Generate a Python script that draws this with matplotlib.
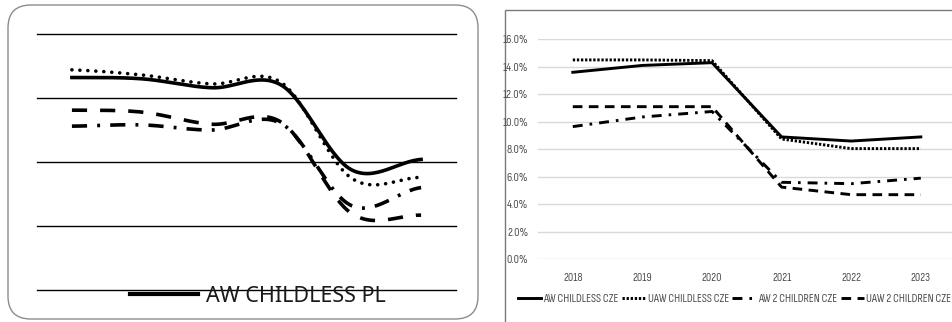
import matplotlib
matplotlib.use("Agg")
import matplotlib.pyplot as plt
import numpy as np
from matplotlib.patches import FancyBboxPatch, Rectangle

years = ["2018", "2019", "2020", "2021", "2022", "2023"]

# Poland, % (left panel)
aw_childless_pl = [16.6, 16.5, 15.8, 16.0, 9.4, 10.2]
uaw_childless_pl = [17.2, 16.8, 16.1, 16.2, 8.75, 8.8]
aw_2children_pl = [12.8, 12.9, 12.5, 13.0, 6.6, 8.0]
uaw_2children_pl = [14.05, 13.9, 12.95, 13.1, 6.0, 5.85]

# Czechia, % (right panel)
aw_childless_cze = [13.6, 14.1, 14.3, 8.9, 8.6, 8.9]
uaw_childless_cze = [14.5, 14.5, 14.45, 8.75, 8.05, 8.05]
aw_2children_cze = [9.65, 10.35, 10.75, 5.6, 5.5, 5.9]
uaw_2children_cze = [11.1, 11.1, 11.1, 5.25, 4.7, 4.7]

pl_labels = ["AW CHILDLESS PL", "UAW CHILDLESS PL", "AW 2 CHILDREN PL", "UAW 2 CHILDREN PL"]
cze_labels = ["AW CHILDLESS CZE", "UAW CHILDLESS CZE", "AW 2 CHILDREN CZE", "UAW 2 CHILDREN CZE"]

NARROW = ["Sofia Sans Condensed", "Roboto Condensed", "DejaVu Sans"]
GREY_TXT = "#4d4d4d"


def smooth(values, steps=30):
    """Catmull-Rom curve through the points, like a smoothed spreadsheet line."""
    p = np.asarray(values, dtype=float)
    n = len(p)
    ext = np.concatenate([[p[0]], p, [p[-1]]])
    xs, ys = [], []
    for i in range(n - 1):
        p0, p1, p2, p3 = ext[i], ext[i + 1], ext[i + 2], ext[i + 3]
        m1 = (p2 - p0) / 2.0
        m2 = (p3 - p1) / 2.0
        t = np.linspace(0, 1, steps, endpoint=(i == n - 2))
        h00 = 2 * t**3 - 3 * t**2 + 1
        h10 = t**3 - 2 * t**2 + t
        h01 = -2 * t**3 + 3 * t**2
        h11 = t**3 - t**2
        xs.append(i + t)
        ys.append(h00 * p1 + h10 * m1 + h01 * p2 + h11 * m2)
    return np.concatenate(xs), np.concatenate(ys)


fig = plt.figure(figsize=(9.53, 3.22), dpi=100)
W, H = 953.0, 322.0


def fx(px):
    return px / W


def fy(py):
    return 1 - py / H


# ---- left panel: Poland, smoothed lines inside a rounded frame ----
frame = FancyBboxPatch((fx(8), fy(319)), fx(470), 314 / H,
                       boxstyle="round,pad=0,rounding_size=0.024",
                       transform=fig.transFigure, facecolor="none",
                       edgecolor="#8c8c8c", linewidth=1.0, zorder=-1,
                       mutation_aspect=W / H)
fig.patches.append(frame)

ax1 = fig.add_axes([fx(37), fy(290), fx(419), 256 / H])
ax1.set_xlim(-0.5, 5.5)
ax1.set_ylim(0, 20)
ax1.axis("off")
for g in range(0, 21, 5):
    ax1.axhline(g, color="black", linewidth=1.0, zorder=1, clip_on=False)

pl_series = [aw_childless_pl, uaw_childless_pl, aw_2children_pl, uaw_2children_pl]
pl_styles = [
    dict(linestyle="-"),
    dict(linestyle=(0, (0.01, 2.2)), dash_capstyle="round"),
    dict(linestyle=(0, (4.2, 2.8, 0.8, 2.8)), dash_capstyle="butt"),
    dict(linestyle=(0, (4.2, 3.6)), dash_capstyle="butt"),
]
pl_lines = []
for vals, lab, st in zip(pl_series, pl_labels, pl_styles):
    sx, sy = smooth(vals)
    ln, = ax1.plot(sx, sy, color="black", linewidth=2.6, label=lab, zorder=3, **st)
    pl_lines.append(ln)

leg1 = ax1.legend(handles=pl_lines[:1], loc="center left",
                  bbox_to_anchor=(fx(130), fy(296)), bbox_transform=fig.transFigure,
                  frameon=False, prop={"family": "Noto Sans", "size": 15.5},
                  handlelength=3.15, handletextpad=0.4, borderpad=0, borderaxespad=0)
for t in leg1.get_texts():
    t.set_color("#1a1a1a")
leg1.get_lines()[0].set_linewidth(3.0)

# ---- right panel: Czechia, straight lines ----
fig.patches.append(Rectangle((fx(505), fy(340)), fx(470), 330 / H,
                             transform=fig.transFigure, facecolor="none",
                             edgecolor="#7a7a7a", linewidth=1.0, zorder=-1))

ax2 = fig.add_axes([fx(538), fy(259.3), fx(417.6), 220 / H])
ax2.patch.set_visible(False)
x = np.arange(len(years))
cze_series = [aw_childless_cze, uaw_childless_cze, aw_2children_cze, uaw_2children_cze]
cze_styles = [
    dict(linestyle="-"),
    dict(linestyle=(0, (0.8, 0.6)), dash_capstyle="butt"),
    dict(linestyle=(0, (3.4, 2.4, 0.9, 2.4)), dash_capstyle="butt"),
    dict(linestyle=(0, (3.3, 2.2)), dash_capstyle="butt"),
]
for vals, lab, st in zip(cze_series, cze_labels, cze_styles):
    ax2.plot(x, vals, color="black", linewidth=2.1, label=lab, zorder=3, **st)

ax2.set_xlim(-0.5, 5.5)
ax2.set_ylim(0, 16)
ax2.set_yticks(np.arange(0, 17, 2))
ax2.set_yticklabels([f"{v:.1f}%" for v in np.arange(0, 17, 2)])
ax2.set_xticks(x)
ax2.set_xticklabels(years)
ax2.grid(axis="y", color="#d9d9d9", linewidth=1.0, zorder=0)
ax2.set_axisbelow(True)
for s in ax2.spines.values():
    s.set_visible(False)
ax2.tick_params(length=0, labelcolor=GREY_TXT)
ax2.tick_params(axis="y", pad=7)
ax2.tick_params(axis="x", pad=10)
for t in ax2.get_xticklabels() + ax2.get_yticklabels():
    t.set_family(NARROW)
    t.set_fontsize(8.5)

leg2 = ax2.legend(loc="center left", ncol=4, bbox_to_anchor=(fx(518), fy(299)),
                  bbox_transform=fig.transFigure, frameon=False,
                  prop={"family": NARROW, "size": 8.5}, handlelength=1.95,
                  handletextpad=0.2, columnspacing=0.3, borderpad=0, borderaxespad=0)
for t in leg2.get_texts():
    t.set_color(GREY_TXT)

fig.savefig("out.png", dpi=100)
